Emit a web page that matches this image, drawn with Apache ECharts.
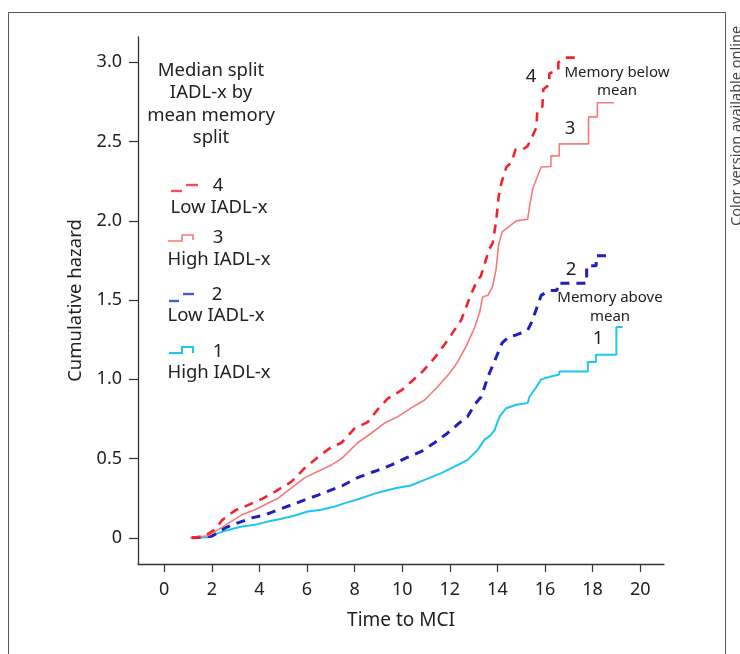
<!DOCTYPE html>
<html>
<head>
<meta charset="utf-8">
<script src="https://cdn.jsdelivr.net/npm/echarts@6/dist/echarts.min.js"></script>
<style>
  html, body { margin: 0; padding: 0; background: #fff; }
  #chart { width: 740px; height: 654px; }
</style>
</head>
<body>
<div id="chart"></div>
<script>
// group 4: memory below mean, low IADL-x
var time4 = [1.15, 1.7, 2.2, 2.42, 3.0, 3.5, 4.1, 4.65, 5.35, 5.9, 6.47, 7.0, 7.45, 8.0, 8.55, 8.97, 9.4, 9.96, 10.38, 10.86, 11.36, 11.78, 12.1, 12.48, 12.9, 13.17, 13.3, 13.45, 13.65, 13.8, 13.95, 14.05, 14.17, 14.38, 14.6, 14.76, 15.05, 15.26, 15.43, 15.64, 15.68, 15.89, 15.93, 16.18, 16.18, 16.56, 16.56, 16.85, 17.35];
var haz4 = [0, 0.01, 0.06, 0.11, 0.175, 0.205, 0.245, 0.29, 0.355, 0.44, 0.51, 0.57, 0.6, 0.69, 0.73, 0.81, 0.88, 0.93, 0.985, 1.05, 1.135, 1.22, 1.29, 1.375, 1.54, 1.63, 1.65, 1.72, 1.82, 1.86, 2.0, 2.15, 2.24, 2.34, 2.37, 2.45, 2.45, 2.47, 2.52, 2.59, 2.7, 2.72, 2.83, 2.86, 2.93, 2.95, 3.0, 3.03, 3.03];

// group 3: memory below mean, high IADL-x
var time3 = [1.1, 1.84, 2.26, 2.7, 3.26, 3.82, 4.37, 4.79, 5.35, 5.91, 6.47, 7.03, 7.45, 8.13, 8.7, 9.27, 9.82, 10.38, 10.94, 11.5, 12.0, 12.33, 12.69, 13.04, 13.25, 13.38, 13.6, 13.8, 13.95, 14.05, 14.2, 14.5, 14.79, 15.27, 15.35, 15.48, 15.68, 15.84, 16.25, 16.25, 16.6, 16.6, 17.83, 17.83, 18.2, 18.2, 18.9];
var haz3 = [0, 0.013, 0.05, 0.093, 0.145, 0.177, 0.22, 0.25, 0.315, 0.38, 0.42, 0.46, 0.5, 0.6, 0.66, 0.725, 0.765, 0.82, 0.87, 0.955, 1.04, 1.11, 1.21, 1.325, 1.42, 1.52, 1.53, 1.585, 1.7, 1.85, 1.93, 1.965, 2.0, 2.01, 2.09, 2.2, 2.28, 2.34, 2.343, 2.41, 2.41, 2.486, 2.486, 2.656, 2.656, 2.745, 2.745];

// group 2: memory above mean, low IADL-x
var time2 = [1.16, 2.0, 2.56, 3.1, 3.68, 4.23, 4.78, 5.35, 5.91, 6.47, 7.03, 7.5, 8.13, 8.85, 9.55, 10.17, 10.8, 11.36, 11.9, 12.4, 12.75, 13.04, 13.32, 13.5, 13.67, 13.95, 14.2, 14.5, 14.79, 15.27, 15.42, 15.63, 15.84, 16.18, 16.5, 16.55, 17.75, 17.75, 18.15, 18.15, 18.75];
var haz2 = [0, 0.01, 0.063, 0.095, 0.126, 0.145, 0.177, 0.208, 0.24, 0.27, 0.303, 0.33, 0.38, 0.42, 0.46, 0.505, 0.545, 0.6, 0.66, 0.725, 0.765, 0.84, 0.89, 0.97, 1.04, 1.14, 1.23, 1.27, 1.28, 1.31, 1.355, 1.44, 1.53, 1.56, 1.56, 1.607, 1.607, 1.716, 1.716, 1.78, 1.78];

// group 1: memory above mean, high IADL-x
var time1 = [1.3, 1.84, 2.26, 2.68, 3.26, 3.82, 4.36, 4.93, 5.49, 6.04, 6.6, 7.17, 7.59, 8.18, 8.97, 9.76, 10.36, 10.94, 11.64, 12.2, 12.75, 13.17, 13.46, 13.7, 13.88, 14.09, 14.37, 14.79, 15.27, 15.35, 15.63, 15.84, 16.25, 16.6, 16.6, 17.8, 17.8, 18.14, 18.14, 19.0, 19.0, 19.26];
var haz1 = [0, 0.003, 0.03, 0.05, 0.071, 0.082, 0.103, 0.12, 0.141, 0.166, 0.177, 0.198, 0.219, 0.245, 0.285, 0.315, 0.33, 0.366, 0.408, 0.45, 0.492, 0.555, 0.62, 0.645, 0.68, 0.765, 0.818, 0.84, 0.85, 0.89, 0.95, 1.0, 1.018, 1.03, 1.05, 1.05, 1.11, 1.11, 1.155, 1.155, 1.33, 1.33];

var xTicks = [0, 2, 4, 6, 8, 10, 12, 14, 16, 18, 20];
var yTicks = [0, 0.5, 1.0, 1.5, 2.0, 2.5, 3.0];
var yTickLabels = ["0", "0.5", "1.0", "1.5", "2.0", "2.5", "3.0"];

var FONT = "Noto Sans";
var TXT = "#222";
var C4 = "#f2222e", C3 = "#f77a7a", C2 = "#2020bc", C1 = "#1ec6f2";

function pairs(t, h) {
  return t.map(function (v, i) { return [v, h[i]]; });
}

function txt(x, y, s, size, align) {
  return {
    type: "text", x: x, y: y, silent: true,
    style: { text: s, fill: TXT, font: size + "px '" + FONT + "'", align: align || "center", verticalAlign: "middle" }
  };
}

function icon(points, color, width) {
  return {
    type: "polyline", silent: true,
    shape: { points: points },
    style: { stroke: color, lineWidth: width, fill: null }
  };
}

var chart = echarts.init(document.getElementById("chart"));

var graphics = [
  { type: "rect", silent: true, shape: { x: 8.5, y: 12.5, width: 717, height: 700 }, style: { fill: null, stroke: "#555", lineWidth: 1 } },
  { type: "text", silent: true, x: 737, y: 226, rotation: Math.PI / 2,
    style: { text: "Color version available online", fill: "#444", font: "14.5px '" + FONT + "'", align: "left", verticalAlign: "middle" } },
  txt(211, 71, "Median split", 18.5),
  txt(211, 93, "IADL-x by", 18.5),
  txt(211, 116, "mean memory", 18.5),
  txt(211, 138, "split", 18.5),
  txt(218, 186, "4", 18.5),
  txt(219, 208, "Low IADL-x", 18.5),
  txt(218, 238, "3", 18.5),
  txt(219, 260, "High IADL-x", 18.5),
  txt(217, 295, "2", 18.5),
  txt(216, 316, "Low IADL-x", 18.5),
  txt(218, 352, "1", 18.5),
  txt(219, 373, "High IADL-x", 18.5),
  // legend keys
  icon([[171, 191], [182, 191]], "#f0505a", 2.4),
  icon([[186, 185], [198, 185]], "#f0505a", 2.4),
  icon([[168, 241], [182, 241], [182, 235], [193, 235], [193, 240]], C3, 1.6),
  icon([[169, 301], [179, 301]], "#4a58c8", 2.4),
  icon([[183, 294], [194, 294]], "#4a58c8", 2.4),
  icon([[169, 353], [182, 353], [182, 347], [193, 347], [193, 353]], C1, 2),
  // curve annotations
  txt(531, 77, "4", 18.5),
  txt(617, 73, "Memory below", 15),
  txt(617, 91, "mean", 15),
  txt(570, 129, "3", 18.5),
  txt(571, 270, "2", 18.5),
  txt(610, 298, "Memory above", 15),
  txt(610, 317, "mean", 15),
  txt(598, 339, "1", 18.5)
];

var option = {
  animation: false,
  backgroundColor: "#fff",
  textStyle: { fontFamily: FONT, color: TXT },
  grid: { left: 138, right: 76, top: 37, bottom: 90 },
  xAxis: {
    type: "value",
    min: -1.1,
    max: 21,
    name: "Time to MCI",
    nameLocation: "middle",
    nameGap: 47,
    nameTextStyle: { fontSize: 19, color: TXT, fontFamily: FONT },
    axisLine: { show: true, onZero: false, lineStyle: { color: "#333", width: 1.3 } },
    axisTick: { show: true, length: 8, customValues: xTicks, lineStyle: { color: "#333", width: 1.2 } },
    axisLabel: { customValues: xTicks, fontSize: 18, color: TXT, margin: 17 },
    splitLine: { show: false }
  },
  yAxis: {
    type: "value",
    min: -0.165,
    max: 3.16,
    name: "Cumulative hazard",
    nameLocation: "middle",
    nameGap: 53,
    nameTextStyle: { fontSize: 18.5, color: TXT, fontFamily: FONT },
    axisLine: { show: true, onZero: false, lineStyle: { color: "#333", width: 1.3 } },
    axisTick: { show: true, length: 9, customValues: yTicks, lineStyle: { color: "#333", width: 1.2 } },
    axisLabel: {
      customValues: yTicks, fontSize: 18, color: TXT, margin: 16,
      formatter: function (v) {
        var i = yTicks.indexOf(v);
        return i >= 0 ? yTickLabels[i] : "";
      }
    },
    splitLine: { show: false }
  },
  series: [
    { name: "1", type: "line", data: pairs(time1, haz1), showSymbol: false, z: 2,
      lineStyle: { color: C1, width: 2 } },
    { name: "2", type: "line", data: pairs(time2, haz2), showSymbol: false, z: 3,
      lineStyle: { color: C2, width: 3, type: [9, 7] } },
    { name: "3", type: "line", data: pairs(time3, haz3), showSymbol: false, z: 4,
      lineStyle: { color: C3, width: 1.6 } },
    { name: "4", type: "line", data: pairs(time4, haz4), showSymbol: false, z: 5,
      lineStyle: { color: C4, width: 2.6, type: [9, 7] } }
  ],
  graphic: graphics
};

chart.setOption(option);
</script>
</body>
</html>
